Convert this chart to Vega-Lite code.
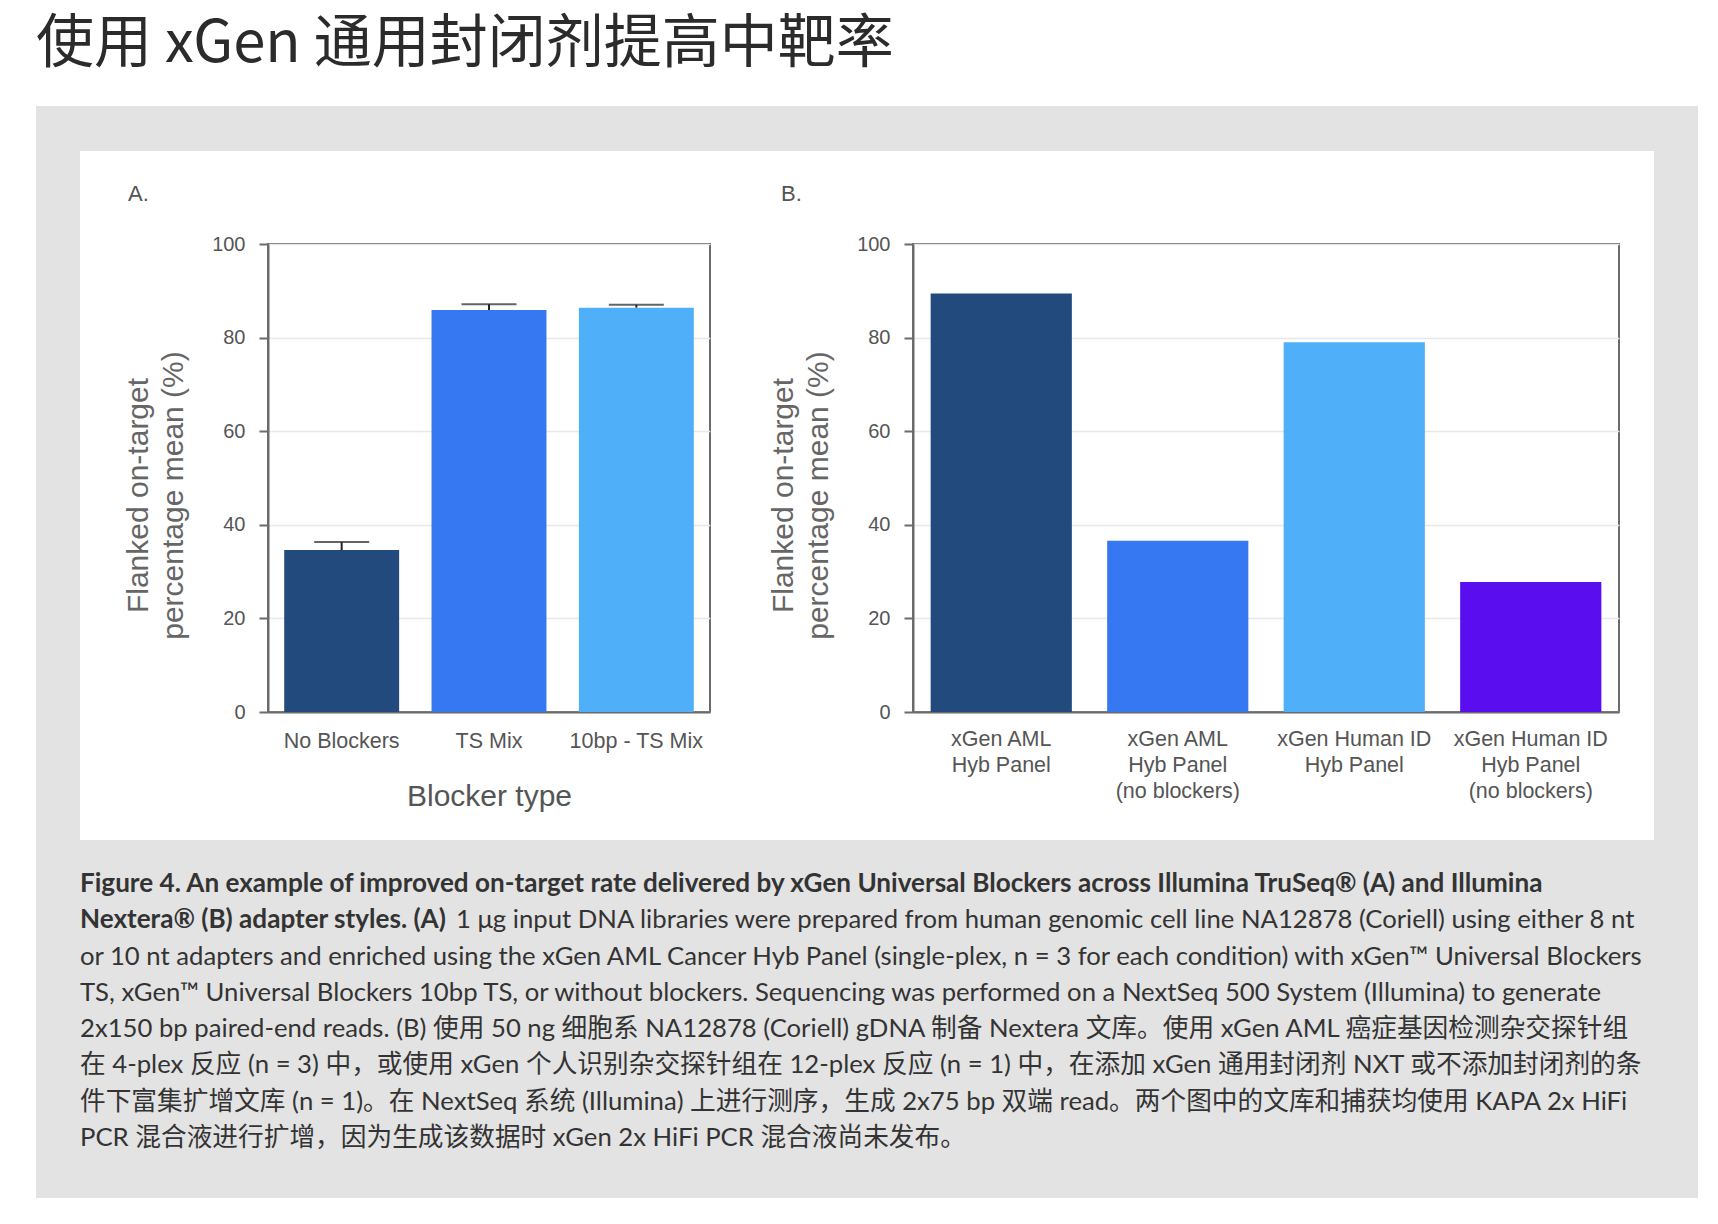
{
  "$schema": "https://vega.github.io/schema/vega-lite/v6.json",
  "background": "white",
  "padding": {"left": 36, "top": 16, "right": 20, "bottom": 25},
  "title": {
    "text": "使用 xGen 通用封闭剂提高中靶率",
    "font": "Noto Sans CJK SC",
    "fontSize": 58,
    "fontWeight": "normal",
    "color": "#2b2b2b",
    "anchor": "start",
    "baseline": "alphabetic",
    "offset": -14
  },
  "datasets": {
    "a": [
      {"blocker": "No Blockers", "mean": 34.6, "upper": 36.3},
      {"blocker": "TS Mix", "mean": 85.9, "upper": 87.1},
      {"blocker": "10bp - TS Mix", "mean": 86.4, "upper": 87.0}
    ],
    "b": [
      {"panel": "xGen AML Hyb Panel", "mean": 89.4},
      {"panel": "xGen AML Hyb Panel (no blockers)", "mean": 36.6},
      {"panel": "xGen Human ID Hyb Panel", "mean": 79.0},
      {"panel": "xGen Human ID Hyb Panel (no blockers)", "mean": 27.8}
    ],
    "cap": [
      {"line": 1, "part": "heading", "text": "Figure 4. An example of improved on-target rate delivered by xGen Universal Blockers across Illumina TruSeq® (A) and Illumina"},
      {"line": 2, "part": "heading", "text": "Nextera® (B) adapter styles. (A)"},
      {"line": 2, "part": "body", "text": "1 μg input DNA libraries were prepared from human genomic cell line NA12878 (Coriell) using either 8 nt"},
      {"line": 3, "part": "body", "text": "or 10 nt adapters and enriched using the xGen AML Cancer Hyb Panel (single-plex, n = 3 for each condition) with xGen™ Universal Blockers"},
      {"line": 4, "part": "body", "text": "TS, xGen™ Universal Blockers 10bp TS, or without blockers. Sequencing was performed on a NextSeq 500 System (Illumina) to generate"},
      {"line": 5, "part": "body", "text": "2x150 bp paired-end reads. (B) 使用 50 ng 细胞系 NA12878 (Coriell) gDNA 制备 Nextera 文库。使用 xGen AML 癌症基因检测杂交探针组"},
      {"line": 6, "part": "body", "text": "在 4-plex 反应 (n = 3) 中，或使用 xGen 个人识别杂交探针组在 12-plex 反应 (n = 1) 中，在添加 xGen 通用封闭剂 NXT 或不添加封闭剂的条"},
      {"line": 7, "part": "body", "text": "件下富集扩增文库 (n = 1)。在 NextSeq 系统 (Illumina) 上进行测序，生成 2x75 bp 双端 read。两个图中的文库和捕获均使用 KAPA 2x HiFi"},
      {"line": 8, "part": "body", "text": "PCR 混合液进行扩增，因为生成该数据时 xGen 2x HiFi PCR 混合液尚未发布。"}
    ]
  },
  "spacing": 0,
  "bounds": "full",
  "vconcat": [
    {"width": 1662, "height": 45, "data": {"values": []}, "mark": "point", "view": {"fill": "#e3e3e3", "stroke": null}},
    {
      "columns": 7,
      "spacing": 0,
      "bounds": "flush",
      "resolve": {"scale": {"color": "independent", "x": "independent", "y": "independent"}},
      "concat": [
        {"width": 44, "height": 93, "data": {"values": []}, "mark": "point", "view": {"fill": "#e3e3e3", "stroke": null}},
        {"width": 188, "height": 93, "data": {"values": []}, "mark": "point", "view": {"stroke": null}},
        {"width": 442, "height": 93, "data": {"values": []}, "mark": "point", "view": {"stroke": null}},
        {"width": 203, "height": 93, "data": {"values": []}, "mark": "point", "view": {"stroke": null}},
        {"width": 706, "height": 93, "data": {"values": []}, "mark": "point", "view": {"stroke": null}},
        {"width": 35, "height": 93, "data": {"values": []}, "mark": "point", "view": {"stroke": null}},
        {"width": 44, "height": 93, "data": {"values": []}, "mark": "point", "view": {"fill": "#e3e3e3", "stroke": null}},

        {"width": 44, "height": 468, "data": {"values": []}, "mark": "point", "view": {"fill": "#e3e3e3", "stroke": null}},
        {"width": 188, "height": 468, "data": {"values": []}, "mark": "point", "view": {"stroke": null}},
        {
          "width": 442, "height": 468,
          "data": {"name": "a"},
          "title": {"text": "A.", "anchor": "start", "frame": "group", "dx": -140, "offset": 11, "baseline": "alphabetic", "fontSize": 22, "fontWeight": "normal", "color": "#555", "font": "Liberation Sans"},
          "view": {"stroke": "#6b6b6b", "strokeWidth": 2},
          "encoding": {
            "x": {"field": "blocker", "type": "nominal", "sort": null, "scale": {"paddingInner": 0.22, "paddingOuter": 0.11},
                  "axis": {"title": "Blocker type", "titleFontSize": 30, "titlePadding": 30, "titleColor": "#555"}}
          },
          "layer": [
            {
              "mark": {"type": "bar"},
              "encoding": {
                "y": {"field": "mean", "type": "quantitative", "scale": {"domain": [0, 100], "nice": false},
                      "axis": {"title": ["Flanked on-target", "percentage mean (%)"], "titleY": 251, "values": [0, 20, 40, 60, 80, 100]}},
                "color": {"field": "blocker", "type": "nominal", "legend": null,
                          "scale": {"domain": ["No Blockers", "TS Mix", "10bp - TS Mix"], "range": ["#234a7d", "#3578f1", "#4fb0f9"]}}
              }
            },
            {
              "mark": {"type": "rule", "color": "#222", "strokeWidth": 2},
              "encoding": {
                "y": {"field": "mean", "type": "quantitative"},
                "y2": {"field": "upper"}
              }
            },
            {
              "mark": {"type": "tick", "color": "#222", "size": 55, "thickness": 2},
              "encoding": {
                "y": {"field": "upper", "type": "quantitative"}
              }
            }
          ]
        },
        {"width": 203, "height": 468, "data": {"values": []}, "mark": "point", "view": {"stroke": null}},
        {
          "width": 706, "height": 468,
          "data": {"name": "b"},
          "title": {"text": "B.", "anchor": "start", "frame": "group", "dx": -132, "offset": 11, "baseline": "alphabetic", "fontSize": 22, "fontWeight": "normal", "color": "#555", "font": "Liberation Sans"},
          "view": {"stroke": "#6b6b6b", "strokeWidth": 2},
          "mark": {"type": "bar"},
          "encoding": {
            "x": {"field": "panel", "type": "nominal", "sort": null, "scale": {"paddingInner": 0.2, "paddingOuter": 0.1},
                  "axis": {"title": null, "labelLineHeight": 26, "labelPadding": 16,
                           "labelExpr": "split(replace(replace(datum.label, ' Hyb Panel', '|Hyb Panel'), ' (no', '|(no'), '|')"}},
            "y": {"field": "mean", "type": "quantitative", "scale": {"domain": [0, 100], "nice": false},
                  "axis": {"title": ["Flanked on-target", "percentage mean (%)"], "titleY": 251, "values": [0, 20, 40, 60, 80, 100]}},
            "color": {"field": "panel", "type": "nominal", "legend": null,
                      "scale": {"domain": ["xGen AML Hyb Panel", "xGen AML Hyb Panel (no blockers)", "xGen Human ID Hyb Panel", "xGen Human ID Hyb Panel (no blockers)"],
                                "range": ["#234a7d", "#3578f1", "#4fb0f9", "#5a0ef0"]}}
          }
        },
        {"width": 35, "height": 468, "data": {"values": []}, "mark": "point", "view": {"stroke": null}},
        {"width": 44, "height": 468, "data": {"values": []}, "mark": "point", "view": {"fill": "#e3e3e3", "stroke": null}},

        {"width": 44, "height": 128, "data": {"values": []}, "mark": "point", "view": {"fill": "#e3e3e3", "stroke": null}},
        {"width": 188, "height": 128, "data": {"values": []}, "mark": "point", "view": {"stroke": null}},
        {"width": 442, "height": 128, "data": {"values": []}, "mark": "point", "view": {"stroke": null}},
        {"width": 203, "height": 128, "data": {"values": []}, "mark": "point", "view": {"stroke": null}},
        {"width": 706, "height": 128, "data": {"values": []}, "mark": "point", "view": {"stroke": null}},
        {"width": 35, "height": 128, "data": {"values": []}, "mark": "point", "view": {"stroke": null}},
        {"width": 44, "height": 128, "data": {"values": []}, "mark": "point", "view": {"fill": "#e3e3e3", "stroke": null}}
      ]
    },
    {
      "spacing": 0, "bounds": "flush",
      "hconcat": [
        {"width": 44, "height": 358, "data": {"values": []}, "mark": "point", "view": {"fill": "#e3e3e3", "stroke": null}},
        {
          "width": 1574, "height": 358,
          "data": {"name": "cap"},
          "view": {"fill": "#e3e3e3", "stroke": null},
          "encoding": {
            "y": {"field": "line", "type": "ordinal", "scale": {"type": "point", "range": [52, 306], "padding": 0}, "axis": null},
            "x": {"datum": 0, "type": "quantitative", "scale": {"domain": [0, 1]}, "axis": null},
            "text": {"field": "text"}
          },
          "layer": [
            {"transform": [{"filter": "datum.part == 'heading'"}],
             "mark": {"type": "text", "align": "left", "baseline": "alphabetic", "font": "Lato, Noto Sans CJK SC", "fontSize": 26.1, "fontWeight": "bold", "color": "#333"}},
            {"transform": [{"filter": "datum.part == 'body' && datum.line != 2"}],
             "mark": {"type": "text", "align": "left", "baseline": "alphabetic", "font": "Lato, Noto Sans CJK SC", "fontSize": 25.7, "color": "#333"}},
            {"transform": [{"filter": "datum.part == 'body' && datum.line == 2"}],
             "mark": {"type": "text", "align": "left", "baseline": "alphabetic", "font": "Lato, Noto Sans CJK SC", "fontSize": 25.7, "color": "#333", "dx": 376}}
          ]
        },
        {"width": 44, "height": 358, "data": {"values": []}, "mark": "point", "view": {"fill": "#e3e3e3", "stroke": null}}
      ]
    }
  ],
  "config": {
    "font": "Liberation Sans",
    "view": {"stroke": null},
    "concat": {"spacing": 0},
    "axis": {
      "labelFont": "Liberation Sans", "labelFontSize": 21.5, "labelColor": "#555",
      "titleFont": "Liberation Sans", "titleFontWeight": "normal", "titleColor": "#666",
      "domainColor": "#6b6b6b", "domainWidth": 2, "tickColor": "#6b6b6b", "tickWidth": 2,
      "gridColor": "#e8e8e8", "gridWidth": 1.5
    },
    "axisX": {"ticks": false, "grid": false, "labelAngle": 0, "labelPadding": 18, "labelLimit": 400},
    "axisY": {"tickSize": 9, "labelPadding": 14, "labelFontSize": 20, "grid": true,
              "titleFontSize": 30, "titleLineHeight": 35, "titlePadding": 23}
  }
}
